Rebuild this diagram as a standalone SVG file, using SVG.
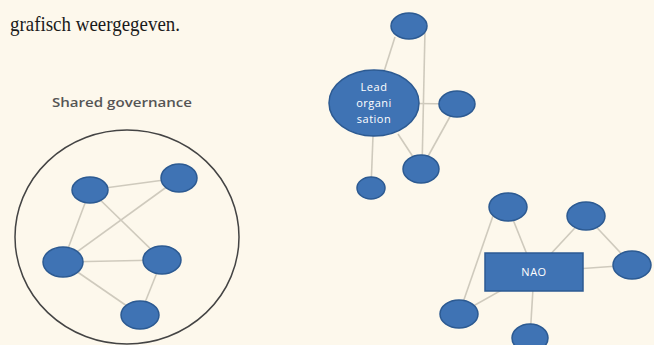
<svg xmlns="http://www.w3.org/2000/svg" width="654" height="345" viewBox="0 0 654 345">
<style>
.node{fill:#3f73b4;stroke:#2c5a92;stroke-width:1.5}
.edge{stroke:#cfcabd;stroke-width:1.6;fill:none}
.wt{fill:#ffffff;font-family:"Open Sans","Liberation Sans",sans-serif;font-size:11px;text-anchor:middle;letter-spacing:0.5px}
</style>
<rect width="654" height="345" fill="#fdf8ec"/>
<text x="10" y="31" font-family="'Liberation Serif',serif" font-size="22" fill="#1a1a1a" textLength="170" lengthAdjust="spacingAndGlyphs">grafisch weergegeven.</text>
<text x="52" y="107" font-family="'Open Sans','Liberation Sans',sans-serif" font-size="12" font-weight="600" fill="#555" textLength="140" lengthAdjust="spacingAndGlyphs">Shared governance</text>
<ellipse cx="127" cy="237" rx="112" ry="107" fill="none" stroke="#444" stroke-width="1.5"/>
<g id="connectors">
<line class="edge" x1="90" y1="190" x2="179" y2="178"/>
<line class="edge" x1="90" y1="190" x2="63" y2="262"/>
<line class="edge" x1="90" y1="190" x2="162" y2="260"/>
<line class="edge" x1="63" y1="262" x2="179" y2="178"/>
<line class="edge" x1="63" y1="262" x2="162" y2="260"/>
<line class="edge" x1="63" y1="262" x2="140" y2="315"/>
<line class="edge" x1="162" y1="260" x2="140" y2="315"/>
<line class="edge" x1="395" y1="37" x2="374" y2="103"/>
<line class="edge" x1="425" y1="30" x2="422" y2="169"/>
<line class="edge" x1="374" y1="103" x2="457" y2="104"/>
<line class="edge" x1="457" y1="104" x2="421" y2="169"/>
<line class="edge" x1="398" y1="134" x2="421" y2="169"/>
<line class="edge" x1="373" y1="136" x2="371" y2="188"/>
<line class="edge" x1="508" y1="207" x2="534" y2="272"/>
<line class="edge" x1="586" y1="216" x2="534" y2="272"/>
<line class="edge" x1="586" y1="216" x2="632" y2="265"/>
<line class="edge" x1="534" y1="272" x2="632" y2="265"/>
<line class="edge" x1="534" y1="272" x2="530" y2="338"/>
<line class="edge" x1="534" y1="272" x2="459" y2="314"/>
<line class="edge" x1="494" y1="213" x2="459" y2="314"/>
</g>
<g id="sg1"><ellipse class="node" cx="90" cy="190" rx="18" ry="13"/></g>
<g id="sg2"><ellipse class="node" cx="179" cy="178" rx="18" ry="14"/></g>
<g id="sg3"><ellipse class="node" cx="63" cy="262" rx="20" ry="15"/></g>
<g id="sg4"><ellipse class="node" cx="162" cy="260" rx="19" ry="14"/></g>
<g id="sg5"><ellipse class="node" cx="140" cy="315" rx="19" ry="14"/></g>
<g id="lo-top"><ellipse class="node" cx="409" cy="26" rx="18" ry="13"/></g>
<g id="lead"><ellipse class="node" cx="374" cy="103" rx="45" ry="33"/>
<text class="wt" x="374" y="91">Lead</text><text class="wt" x="374" y="107">organi</text><text class="wt" x="374" y="123">sation</text></g>
<g id="lo-right"><ellipse class="node" cx="457" cy="104" rx="18" ry="13"/></g>
<g id="lo-bottom"><ellipse class="node" cx="421" cy="169" rx="18" ry="14"/></g>
<g id="lo-small"><ellipse class="node" cx="371" cy="188" rx="14" ry="11"/></g>
<g id="nao"><rect class="node" x="485" y="253" width="98" height="38"/>
<text class="wt" x="534" y="276">NAO</text></g>
<g id="n-tl"><ellipse class="node" cx="508" cy="207" rx="19" ry="14"/></g>
<g id="n-tr"><ellipse class="node" cx="586" cy="216" rx="19" ry="14"/></g>
<g id="n-r"><ellipse class="node" cx="632" cy="265" rx="19" ry="14"/></g>
<g id="n-bl"><ellipse class="node" cx="459" cy="314" rx="19" ry="14"/></g>
<g id="n-b"><ellipse class="node" cx="530" cy="338" rx="18" ry="14"/></g>
</svg>
